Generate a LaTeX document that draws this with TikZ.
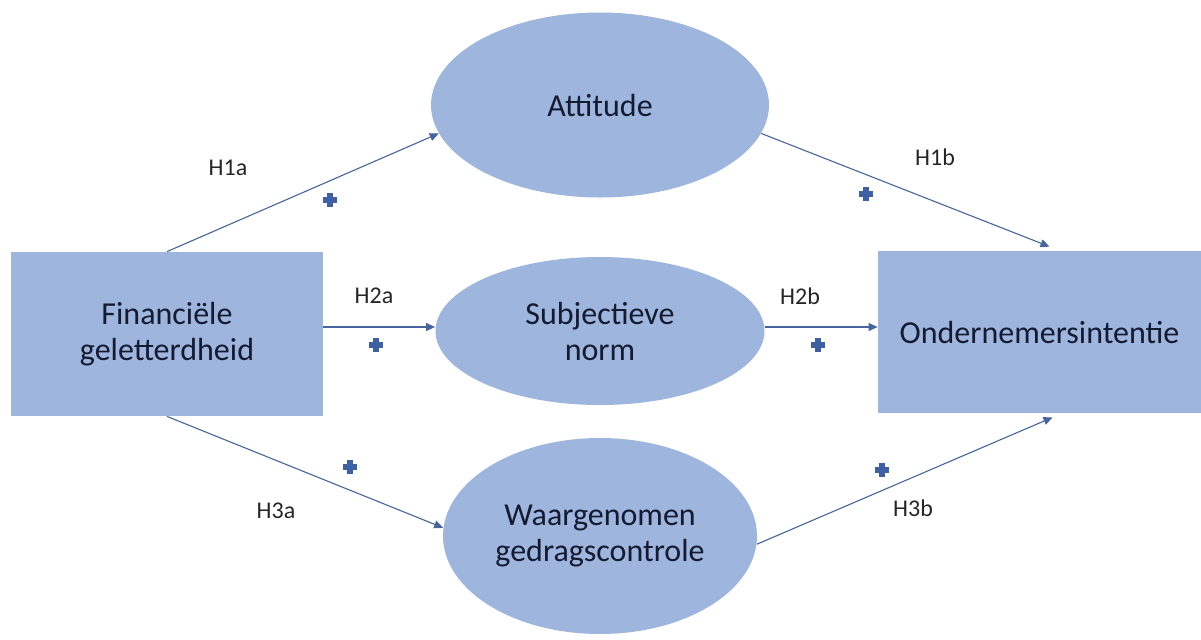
\documentclass[tikz,border=0pt]{standalone}
\usepackage{fontspec}
\setmainfont{Carlito}
\usetikzlibrary{arrows.meta,calc,shapes.geometric}
\definecolor{boxfill}{RGB}{158,181,221}
\definecolor{arrcol}{RGB}{72,100,158}
\definecolor{pluscol}{RGB}{62,96,165}
\definecolor{txtcol}{RGB}{20,26,48}
\tikzset{
  rectbox/.style={rectangle,fill=boxfill,inner sep=0pt,text=txtcol,align=center,font=\fontsize{16}{18}\selectfont},
  ellbox/.style={ellipse,fill=boxfill,inner sep=0pt,text=txtcol,align=center,font=\fontsize{16}{18}\selectfont},
  arr/.style={draw=arrcol,line width=0.55pt,-{Triangle[length=4.5pt,width=4pt]}},
  hlabel/.style={text=black!85,font=\fontsize{12}{14}\selectfont,inner sep=0pt},
  plussign/.style={minimum size=7pt,inner sep=0pt,path picture={
    \draw[pluscol,line width=2.6pt] (path picture bounding box.west) -- (path picture bounding box.east);
    \draw[pluscol,line width=2.6pt] (path picture bounding box.south) -- (path picture bounding box.north);}}
}
\begin{document}
\begin{tikzpicture}[x=0.5pt,y=-0.5pt]
\useasboundingbox (0,0) rectangle (1201,639);
\node[rectbox,minimum width=156pt,minimum height=82pt] (fin) at (167,334) {Financiële\\geletterdheid};
\node[rectbox,minimum width=161.5pt,minimum height=81pt] (ond) at (1039.5,332) {Ondernemersintentie};
\node[ellbox,minimum width=169pt,minimum height=92.5pt] (att) at (600,105) {Attitude};
\node[ellbox,minimum width=164.5pt,minimum height=74pt] (sub) at (600,331) {Subjectieve\\norm};
\node[ellbox,minimum width=157pt,minimum height=98pt] (wag) at (600,536) {Waargenomen\\gedragscontrole};

\draw[arr] (fin.north) -- (att.190);
\draw[arr] (att.-10) -- ([xshift=5pt,yshift=2pt]ond.north);
\draw[arr] ([yshift=2pt]sub.west -| fin.east) -- ([yshift=2pt]sub.west);
\draw[arr] ([yshift=2pt]sub.east) -- ([yshift=2pt]sub.east -| ond.west);
\draw[arr] (fin.south) -- (wag.177);
\draw[arr] (wag.-3) -- ([xshift=6.5pt,yshift=-2pt]ond.south);

\node[hlabel] (l1a) at (228,168) {H1a};
\node[hlabel] (l1b) at (935,157) {H1b};
\node[hlabel] (l2a) at (374,296) {H2a};
\node[hlabel] (l2b) at (800,296) {H2b};
\node[hlabel] (l3a) at (276,511) {H3a};
\node[hlabel] (l3b) at (913,508) {H3b};

\node[plussign] (p1) at (330,200) {};
\node[plussign] (p2) at (866,194) {};
\node[plussign] (p3) at (376,345) {};
\node[plussign] (p4) at (818,345) {};
\node[plussign] (p5) at (350,467) {};
\node[plussign] (p6) at (882,470) {};
\end{tikzpicture}
\end{document}
